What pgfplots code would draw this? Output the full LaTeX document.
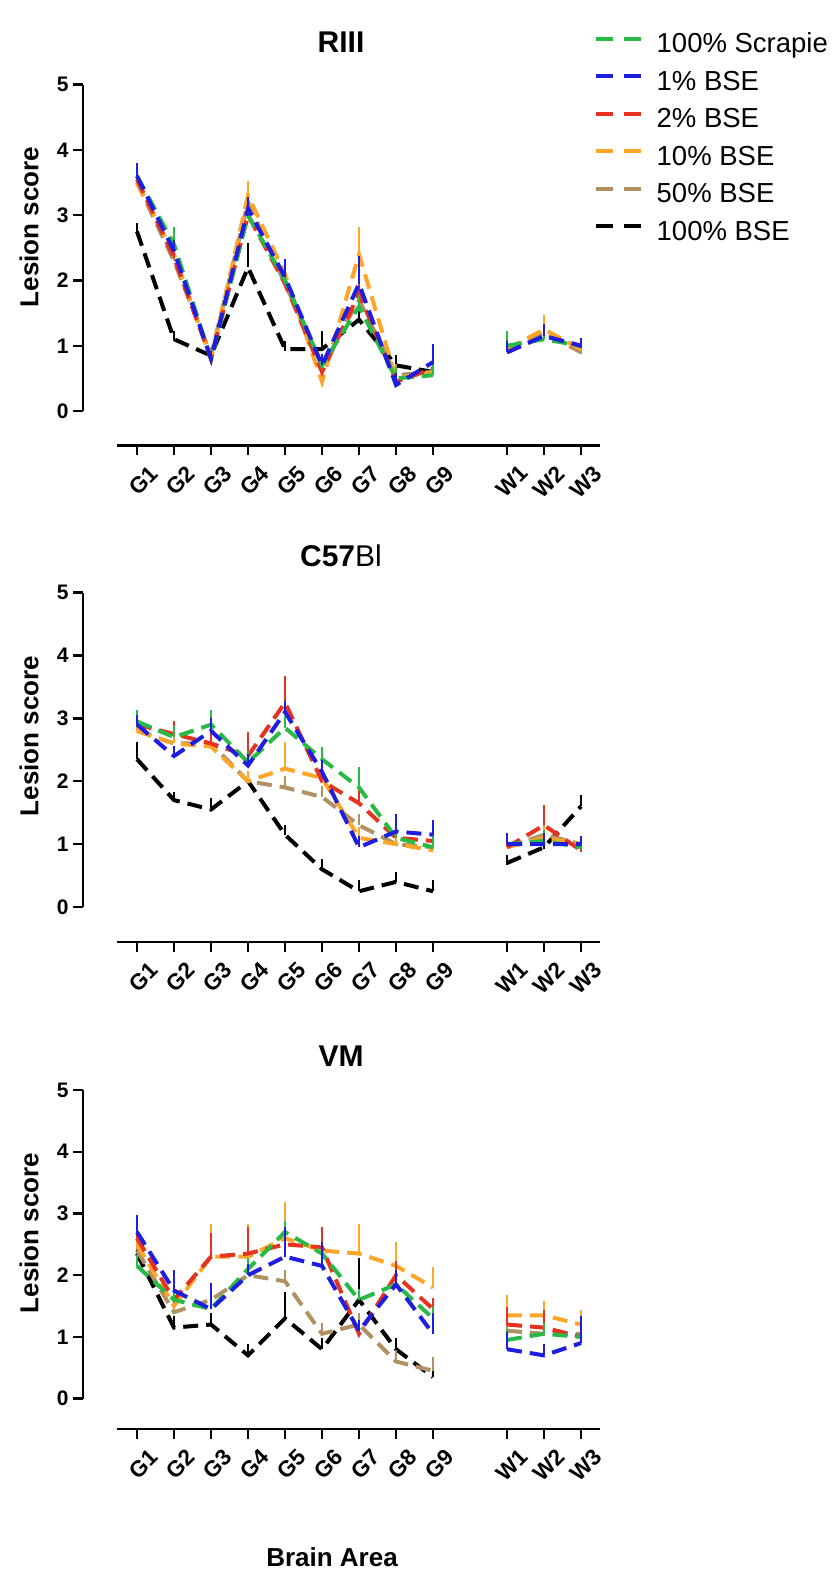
\documentclass[border=0pt]{standalone}
\usepackage{fontspec}
\setmainfont{Liberation Sans}
\usepackage{pgfplots}
\pgfplotsset{compat=1.18}
\definecolor{cscr}{RGB}{40,185,70}
\definecolor{cb1}{RGB}{30,30,225}
\definecolor{cb2}{RGB}{230,50,30}
\definecolor{cb10}{RGB}{255,165,40}
\definecolor{cb50}{RGB}{175,145,100}
\pgfplotsset{
  panel/.style={
    x=37bp,
    xmin=-1.46, xmax=12.51, ymax=5,
    anchor=south west,
    clip=false,
    axis line style={draw=none},
    xtick={0,1,2,3,4,5,6,7,8,10,11,12},
    xticklabels={G1,G2,G3,G4,G5,G6,G7,G8,G9,W1,W2,W3},
    ytick={0,1,2,3,4,5},
    xtick pos=left, ytick pos=left,
    tick align=outside, major tick length=10bp,
    tick style={line width=2.4bp, black},
    /pgf/number format/assume math mode=true,
    yticklabel style={font=\fontsize{21bp}{21bp}\selectfont\bfseries, xshift=-1bp},
    xticklabel style={font=\fontsize{22.5bp}{22.5bp}\selectfont\bfseries, rotate=45, anchor=north east, inner sep=1bp, yshift=-13bp, xshift=3bp},
    unbounded coords=jump,
    every axis plot/.append style={line width=4bp, dash pattern=on 15bp off 8bp},
    error bars/y dir=plus, error bars/y explicit,
    error bars/error bar style={solid, line width=2.4bp},
    error bars/error mark options={solid, line width=2.4bp, mark size=5bp},
  },
}
\newcommand{\axlines}[1]{%
  \draw[line width=2.6bp, black] (axis cs:-1.46,0) -- (axis cs:-1.46,5);
  \draw[line width=2.6bp, black] (axis cs:-0.54,#1) -- (axis cs:12.51,#1);}
\begin{document}
\begin{tikzpicture}[x=1bp,y=1bp]
\useasboundingbox (0,0) rectangle (835,1580);
% ---------------- RIII ----------------
\begin{axis}[panel, y=65.3bp, ymin=-0.525, at={(83bp,1134.6bp)},
  legend style={at={(0.988,1.1425)}, anchor=north west, draw=none, fill=none,
    font=\fontsize{27.5bp}{27.5bp}\selectfont, row sep=12bp, column sep=14bp,
    inner sep=0bp, outer sep=0bp,
    nodes={inner sep=0bp, text height=19.5bp, text depth=6bp}},
  legend cell align=left,
  legend image code/.code={\draw[#1, dash pattern=on 17bp off 11bp] (0bp,7bp) -- (45bp,7bp);}]
\addlegendimage{cscr, line width=4bp}\addlegendentry{100\% Scrapie}
\addlegendimage{cb1, line width=4bp}\addlegendentry{1\% BSE}
\addlegendimage{cb2, line width=4bp}\addlegendentry{2\% BSE}
\addlegendimage{cb10, line width=4bp}\addlegendentry{10\% BSE}
\addlegendimage{cb50, line width=4bp}\addlegendentry{50\% BSE}
\addlegendimage{black, line width=4bp}\addlegendentry{100\% BSE}
\addplot[black, forget plot] table[y error=e, row sep=\\]{x y e\\ 0 2.75 0.05\\ 1 1.1 0.05\\ 2 0.85 0.05\\ 3 2.2 0.3\\ 4 0.95 0.05\\ 5 0.95 0.2\\ 6 1.4 0.2\\ 7 0.7 0.08\\ 8 0.6 0.08\\};
\addplot[cb50, forget plot] table[y error=e, row sep=\\]{x y e\\ 0 3.5 0.1\\ 1 2.3 0.1\\ 2 0.85 0.05\\ 3 3.2 0.1\\ 4 1.95 0.1\\ 5 0.7 0.1\\ 6 1.7 0.1\\ 7 0.55 0.1\\ 8 0.6 0.1\\ 9 nan nan\\ 10 0.95 0.1\\ 11 1.2 0.1\\ 12 0.9 0.05\\};
\addplot[cb10, forget plot] table[y error=e, row sep=\\]{x y e\\ 0 3.5 0.1\\ 1 2.4 0.1\\ 2 0.8 0.05\\ 3 3.3 0.15\\ 4 2.1 0.15\\ 5 0.45 0.1\\ 6 2.4 0.35\\ 7 0.5 0.1\\ 8 0.6 0.1\\ 9 nan nan\\ 10 0.95 0.1\\ 11 1.25 0.15\\ 12 0.95 0.05\\};
\addplot[cb2, forget plot] table[y error=e, row sep=\\]{x y e\\ 0 3.55 0.1\\ 1 2.35 0.1\\ 2 0.8 0.05\\ 3 3.0 0.1\\ 4 1.95 0.1\\ 5 0.6 0.1\\ 6 1.8 0.1\\ 7 0.45 0.1\\ 8 0.65 0.1\\ 9 nan nan\\ 10 0.9 0.1\\ 11 1.15 0.1\\ 12 1.0 0.05\\};
\addplot[cscr, forget plot] table[y error=e, row sep=\\]{x y e\\ 0 3.6 0.08\\ 1 2.55 0.2\\ 2 0.8 0.05\\ 3 3.0 0.1\\ 4 2.0 0.1\\ 5 0.7 0.1\\ 6 1.6 0.1\\ 7 0.5 0.1\\ 8 0.55 0.1\\ 9 nan nan\\ 10 1.0 0.15\\ 11 1.1 0.1\\ 12 1.0 0.05\\};
\addplot[cb1, forget plot] table[y error=e, row sep=\\]{x y e\\ 0 3.6 0.12\\ 1 2.45 0.1\\ 2 0.8 0.05\\ 3 3.1 0.1\\ 4 2.05 0.2\\ 5 0.7 0.1\\ 6 1.95 0.35\\ 7 0.4 0.1\\ 8 0.75 0.2\\ 9 nan nan\\ 10 0.9 0.1\\ 11 1.15 0.1\\ 12 1.0 0.05\\};
\axlines{-0.525}
\end{axis}
% ---------------- C57Bl ----------------
\begin{axis}[panel, y=62.9bp, ymin=-0.556, at={(83bp,638bp)}]
\addplot[black] table[y error=e, row sep=\\]{x y e\\ 0 2.35 0.2\\ 1 1.7 0.05\\ 2 1.55 0.1\\ 3 2.0 0.05\\ 4 1.15 0.08\\ 5 0.6 0.08\\ 6 0.25 0.1\\ 7 0.4 0.08\\ 8 0.25 0.1\\ 9 nan nan\\ 10 0.7 0.05\\ 11 0.95 0.05\\ 12 1.6 0.1\\};
\addplot[cb50] table[y error=e, row sep=\\]{x y e\\ 0 2.8 0.08\\ 1 2.6 0.08\\ 2 2.6 0.08\\ 3 2.0 0.08\\ 4 1.9 0.1\\ 5 1.75 0.1\\ 6 1.3 0.1\\ 7 1.0 0.1\\ 8 0.95 0.1\\ 9 nan nan\\ 10 0.95 0.1\\ 11 1.15 0.1\\ 12 1.0 0.05\\};
\addplot[cb10] table[y error=e, row sep=\\]{x y e\\ 0 2.8 0.08\\ 1 2.6 0.1\\ 2 2.55 0.08\\ 3 2.0 0.08\\ 4 2.2 0.35\\ 5 2.05 0.1\\ 6 1.1 0.1\\ 7 1.0 0.1\\ 8 0.9 0.1\\ 9 nan nan\\ 10 0.95 0.1\\ 11 1.1 0.1\\ 12 1.0 0.05\\};
\addplot[cb2] table[y error=e, row sep=\\]{x y e\\ 0 2.9 0.08\\ 1 2.75 0.12\\ 2 2.6 0.08\\ 3 2.4 0.3\\ 4 3.25 0.35\\ 5 2.0 0.1\\ 6 1.65 0.25\\ 7 1.1 0.1\\ 8 1.05 0.15\\ 9 nan nan\\ 10 0.95 0.1\\ 11 1.3 0.25\\ 12 0.9 0.05\\};
\addplot[cscr] table[y error=e, row sep=\\]{x y e\\ 0 2.95 0.1\\ 1 2.7 0.1\\ 2 2.9 0.15\\ 3 2.3 0.1\\ 4 2.85 0.1\\ 5 2.35 0.12\\ 6 1.9 0.25\\ 7 1.1 0.1\\ 8 0.95 0.1\\ 9 nan nan\\ 10 1.0 0.1\\ 11 1.05 0.1\\ 12 0.95 0.05\\};
\addplot[cb1] table[y error=e, row sep=\\]{x y e\\ 0 2.9 0.08\\ 1 2.4 0.08\\ 2 2.8 0.12\\ 3 2.25 0.1\\ 4 3.1 0.1\\ 5 2.15 0.1\\ 6 0.95 0.1\\ 7 1.2 0.2\\ 8 1.15 0.15\\ 9 nan nan\\ 10 1.0 0.1\\ 11 1.0 0.1\\ 12 1.0 0.05\\};
\axlines{-0.556}
\end{axis}
% ---------------- VM ----------------
\begin{axis}[panel, y=61.7bp, ymin=-0.493, at={(83bp,151bp)}]
\addplot[black] table[y error=e, row sep=\\]{x y e\\ 0 2.35 0.1\\ 1 1.15 0.1\\ 2 1.2 0.1\\ 3 0.7 0.1\\ 4 1.3 0.35\\ 5 0.8 0.1\\ 6 1.6 0.6\\ 7 0.8 0.1\\ 8 0.35 0.1\\};
\addplot[cb50] table[y error=e, row sep=\\]{x y e\\ 0 2.4 0.1\\ 1 1.4 0.1\\ 2 1.6 0.1\\ 3 2.0 0.1\\ 4 1.9 0.1\\ 5 1.05 0.1\\ 6 1.2 0.1\\ 7 0.6 0.1\\ 8 0.45 0.15\\ 9 nan nan\\ 10 1.1 0.1\\ 11 1.05 0.1\\ 12 1.05 0.1\\};
\addplot[cb10] table[y error=e, row sep=\\]{x y e\\ 0 2.5 0.1\\ 1 1.5 0.1\\ 2 2.3 0.45\\ 3 2.3 0.45\\ 4 2.6 0.5\\ 5 2.4 0.1\\ 6 2.35 0.4\\ 7 2.15 0.3\\ 8 1.8 0.25\\ 9 nan nan\\ 10 1.35 0.25\\ 11 1.35 0.15\\ 12 1.2 0.15\\};
\addplot[cb2] table[y error=e, row sep=\\]{x y e\\ 0 2.6 0.1\\ 1 1.6 0.1\\ 2 2.3 0.3\\ 3 2.35 0.35\\ 4 2.5 0.3\\ 5 2.45 0.25\\ 6 1.05 0.1\\ 7 2.0 0.15\\ 8 1.45 0.1\\ 9 nan nan\\ 10 1.2 0.2\\ 11 1.15 0.2\\ 12 1.0 0.15\\};
\addplot[cscr] table[y error=e, row sep=\\]{x y e\\ 0 2.15 0.1\\ 1 1.6 0.1\\ 2 1.45 0.1\\ 3 2.1 0.1\\ 4 2.7 0.1\\ 5 2.35 0.1\\ 6 1.6 0.1\\ 7 1.85 0.1\\ 8 1.3 0.1\\ 9 nan nan\\ 10 0.95 0.1\\ 11 1.05 0.1\\ 12 1.0 0.1\\};
\addplot[cb1] table[y error=e, row sep=\\]{x y e\\ 0 2.7 0.2\\ 1 1.75 0.25\\ 2 1.45 0.35\\ 3 2.0 0.1\\ 4 2.3 0.4\\ 5 2.15 0.3\\ 6 1.1 0.1\\ 7 1.85 0.15\\ 8 1.05 0.25\\ 9 nan nan\\ 10 0.8 0.2\\ 11 0.7 0.1\\ 12 0.9 0.35\\};
\axlines{-0.493}
\end{axis}
% ---------------- titles and labels ----------------
\node[font=\fontsize{30bp}{30bp}\selectfont\bfseries] at (341,1538) {RIII};
\node[font=\fontsize{30bp}{30bp}\selectfont] at (341,1024) {\textbf{C57}Bl};
\node[font=\fontsize{30bp}{30bp}\selectfont\bfseries] at (341,524) {VM};
\foreach \yy in {1353,844,347}
  \node[rotate=90, font=\fontsize{26bp}{26bp}\selectfont\bfseries] at (29,\yy) {Lesion score};
\node[font=\fontsize{26bp}{26bp}\selectfont\bfseries] at (332,23) {Brain Area};
\end{tikzpicture}
\end{document}
